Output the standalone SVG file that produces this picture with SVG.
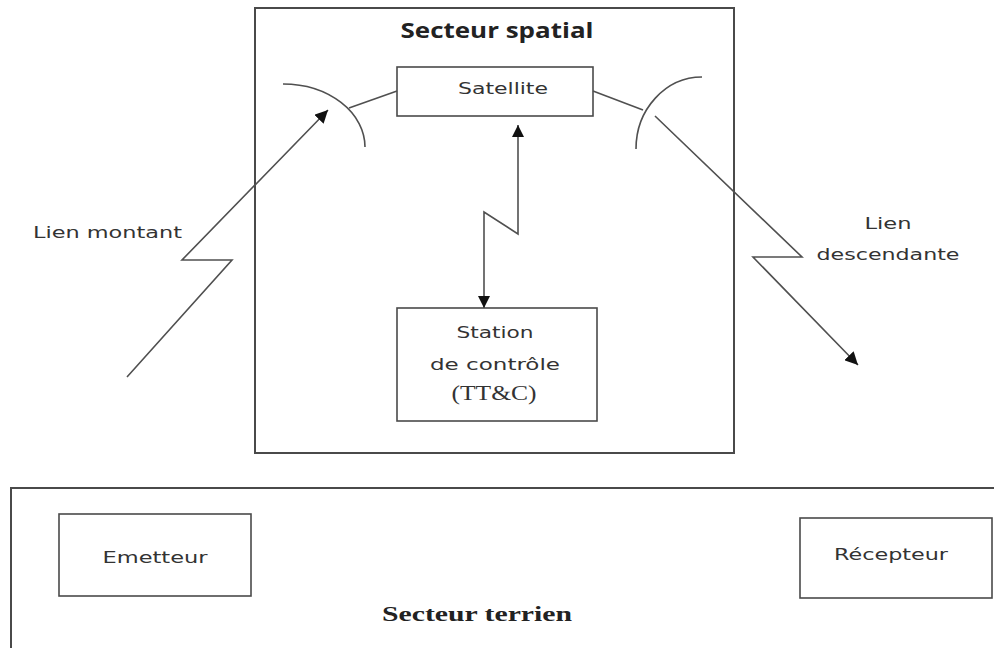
<svg xmlns="http://www.w3.org/2000/svg" width="994" height="648" viewBox="0 0 994 648">
  <style>
    .frame { fill: none; stroke: #4a4a4a; stroke-width: 2; }
    .box { fill: #ffffff; stroke: #4a4a4a; stroke-width: 1.6; }
    .wire { fill: none; stroke: #505050; stroke-width: 1.6; stroke-linejoin: miter; }
    .dish { fill: none; stroke: #505050; stroke-width: 1.6; }
    .lbl { font-family: "DejaVu Sans", "Liberation Sans", sans-serif; font-size: 16px; fill: #333333; }
    .code { font-family: "Liberation Serif", "DejaVu Serif", serif; font-size: 20px; fill: #333333; }
    .title { font-family: "Open Sans", "DejaVu Sans", sans-serif; font-weight: bold; font-size: 21px; fill: #222222; }
    .serif { font-family: "Liberation Serif", "DejaVu Serif", serif; font-weight: bold; font-size: 22px; fill: #222222; }
  </style>
  <defs>
    <marker id="arrow" viewBox="0 0 10 10" refX="10" refY="5" markerWidth="12" markerHeight="12" markerUnits="userSpaceOnUse" orient="auto-start-reverse">
      <path d="M0,0 L10,5 L0,10 Z" fill="#111111"/>
    </marker>
    <marker id="arrowBig" viewBox="0 0 10 10" refX="10" refY="5" markerWidth="13" markerHeight="13" markerUnits="userSpaceOnUse" orient="auto">
      <path d="M0,0 L10,5 L0,10 Z" fill="#111111"/>
    </marker>
  </defs>

  <rect width="994" height="648" fill="#ffffff"/>

  <!-- Space segment frame -->
  <g id="secteur-spatial">
    <rect class="frame" x="255" y="8" width="479" height="445"/>
    <text class="title" x="497" y="38" text-anchor="middle" textLength="193" lengthAdjust="spacingAndGlyphs">Secteur spatial</text>
  </g>

  <!-- Satellite -->
  <g id="satellite">
    <rect class="box" x="397" y="67" width="196" height="49"/>
    <text class="lbl" x="503" y="94" text-anchor="middle" textLength="90" lengthAdjust="spacingAndGlyphs">Satellite</text>
  </g>

  <!-- Antennas on both sides of the satellite -->
  <g id="antenne-gauche">
    <path class="dish" d="M283,84 A82,63 0 0 1 365,147"/>
    <line class="wire" x1="397" y1="91" x2="349" y2="108"/>
  </g>
  <g id="antenne-droite">
    <path class="dish" d="M702,77 A66,72 0 0 0 636,149"/>
    <line class="wire" x1="593" y1="91" x2="643" y2="110"/>
  </g>

  <!-- Control station -->
  <g id="station-controle">
    <rect class="box" x="397" y="308" width="200" height="113"/>
    <text class="lbl" x="495" y="338" text-anchor="middle" textLength="77" lengthAdjust="spacingAndGlyphs">Station</text>
    <text class="lbl" x="495" y="370" text-anchor="middle" textLength="130" lengthAdjust="spacingAndGlyphs">de  contrôle</text>
    <text class="code" x="494" y="400" text-anchor="middle" textLength="85" lengthAdjust="spacingAndGlyphs">(TT&amp;C)</text>
  </g>

  <!-- Ground segment frame (runs past the right and bottom edges) -->
  <g id="secteur-terrien">
    <rect class="frame" x="11" y="488" width="1000" height="200"/>
    <text class="serif" x="477" y="621" text-anchor="middle" textLength="190" lengthAdjust="spacingAndGlyphs">Secteur terrien</text>
  </g>

  <g id="emetteur">
    <rect class="box" x="59" y="514" width="192" height="82"/>
    <text class="lbl" x="155" y="563" text-anchor="middle" textLength="105" lengthAdjust="spacingAndGlyphs">Emetteur</text>
  </g>

  <g id="recepteur">
    <rect class="box" x="800" y="518" width="192" height="80"/>
    <text class="lbl" x="891" y="560" text-anchor="middle" textLength="114" lengthAdjust="spacingAndGlyphs">Récepteur</text>
  </g>

  <!-- Link labels -->
  <g id="label-montant">
    <text class="lbl" x="33" y="238" textLength="149" lengthAdjust="spacingAndGlyphs">Lien montant</text>
  </g>
  <g id="label-descendant">
    <text class="lbl" x="888" y="229" text-anchor="middle" textLength="47" lengthAdjust="spacingAndGlyphs">Lien</text>
    <text class="lbl" x="888" y="260" text-anchor="middle" textLength="143" lengthAdjust="spacingAndGlyphs">descendante</text>
  </g>

  <!-- Radio links (zig-zag lightning paths) -->
  <g id="connecteurs">
    <polyline class="wire" points="127,377 232,260 182,260 328,110" marker-end="url(#arrowBig)"/>
    <polyline class="wire" points="655,116 802,257 753,257 858,365" marker-end="url(#arrowBig)"/>
    <polyline class="wire" points="518,125 518,234 484,212 484,308" marker-start="url(#arrow)" marker-end="url(#arrow)"/>
  </g>
</svg>
